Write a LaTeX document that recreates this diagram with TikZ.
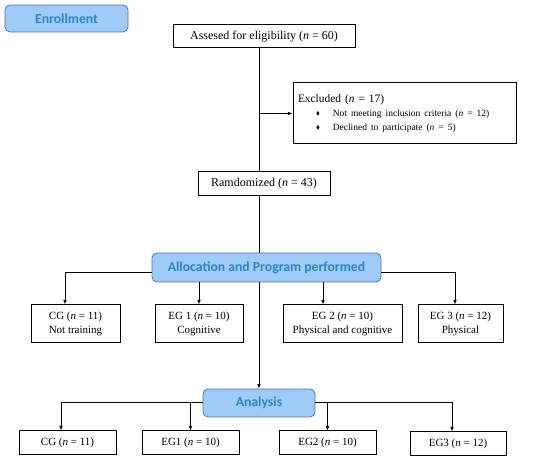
\documentclass[tikz,border=0pt]{standalone}
\usepackage{amssymb}
\usepackage{fontspec}
\setmainfont{Liberation Serif}
\newfontfamily\stagefont{Carlito}
\usepackage{tikz}
\usetikzlibrary{arrows.meta, positioning, calc}
\definecolor{stagefill}{RGB}{158,203,247}
\definecolor{stagedraw}{RGB}{88,116,150}
\definecolor{stagetext}{RGB}{46,132,200}
\newcommand{\nn}{\textit{n}}
\newcommand{\dmd}{\raisebox{0.15ex}{\scalebox{0.6}{$\blacklozenge$}}}

\begin{document}
\begin{tikzpicture}[
    x=1pt, y=-1pt,
    arr/.style={-{Latex[length=1.6mm, width=1.3mm]}, line width=1pt},
    line/.style={line width=1pt},
    box/.style={draw, line width=1pt, inner sep=2pt, align=center,
                font=\fontsize{11}{14.5}\selectfont},
    bigbox/.style={box, font=\fontsize{12}{14}\selectfont},
    stage/.style={draw=stagedraw, fill=stagefill, rounded corners=5pt, line width=0.8pt,
                  text=stagetext, font=\stagefont\bfseries\fontsize{13.7}{15}\selectfont},
]
\useasboundingbox (0,0) rectangle (550,462);

% stages
\node[stage, minimum width=123pt, minimum height=27pt] (enroll) at (66.5,18.5) {Enrollment};
\node[stage, minimum width=229pt, minimum height=29pt] (alloc) at (266.5,267.5) {Allocation and Program performed};
\node[stage, minimum width=112pt, minimum height=28pt] (ana) at (259,403) {Analysis};

% enrollment
\node[bigbox, minimum width=182pt, minimum height=23pt] (assess) at (264,36.5) {Assesed for eligibility (\nn{} = 60)};
\node[bigbox, minimum width=223pt, minimum height=61pt, text width=213pt, align=left] (excl) at (404.5,113.5)
    {\fontsize{11.4}{13}\selectfont Excluded (\nn{} = 17)\\[-1pt]
     {\fontsize{9.5}{15}\selectfont\hspace*{18pt}\dmd\hspace{13pt}Not meeting inclusion criteria (\nn{} = 12)\\
      \hspace*{18pt}\dmd\hspace{13pt}Declined to participate (\nn{} = 5)}};
\node[bigbox, minimum width=132pt, minimum height=24pt] (rand) at (264,184) {Ramdomized (\nn{} = 43)};

% allocation
\node[box, minimum width=89pt, minimum height=38pt] (cgA) at (75.5,324) {CG (\nn{} = 11)\\Not training};
\node[box, minimum width=88pt, minimum height=38pt] (egoneA) at (199,324) {EG 1 (\nn{} = 10)\\Cognitive};
\node[box, minimum width=119pt, minimum height=38pt] (egtwoA) at (342.5,324) {EG 2 (\nn{} = 10)\\Physical and cognitive};
\node[box, minimum width=85pt, minimum height=38pt] (egthreeA) at (460.5,324) {EG 3 (\nn{} = 12)\\Physical};

% analysis
\node[box, minimum width=97pt, minimum height=24pt] (cgB) at (67.5,443) {CG (\nn{} = 11)};
\node[box, minimum width=97pt, minimum height=24pt] (egoneB) at (190.5,443) {EG1 (\nn{} = 10)};
\node[box, minimum width=97pt, minimum height=24pt] (egtwoB) at (327.5,443) {EG2 (\nn{} = 10)};
\node[box, minimum width=96pt, minimum height=24pt] (egthreeB) at (458,444) {EG3 (\nn{} = 12)};

\coordinate (spine) at (259,0);

\draw[line] (spine |- assess.south) -- (spine |- rand.north);
\draw[arr] (spine |- excl.west) -- (excl.west);
\draw[line] (spine |- rand.south) -- (spine |- alloc.north);

\draw[arr] ([yshift=-5.5pt]alloc.west) -| ([xshift=-10.5pt]cgA.north);
\draw[arr] (egoneA.north |- alloc.south) -- (egoneA.north);
\draw[arr] ([xshift=-19.5pt]egtwoA.north |- alloc.south) -- ([xshift=-19.5pt]egtwoA.north);
\draw[arr] ([yshift=-5.5pt]alloc.east) -| ([xshift=-5.5pt]egthreeA.north);
\draw[arr] (spine |- alloc.south) -- (ana.north);

\draw[arr] (ana.west) -| ([xshift=-6.5pt]cgB.north);
\draw[arr] (egoneB.north |- ana.west) -- (egoneB.north);
\draw[arr] (egtwoB.north |- ana.east) -- (egtwoB.north);
\draw[arr] (ana.east) -| ([xshift=-6pt]egthreeB.north);
\end{tikzpicture}
\end{document}
